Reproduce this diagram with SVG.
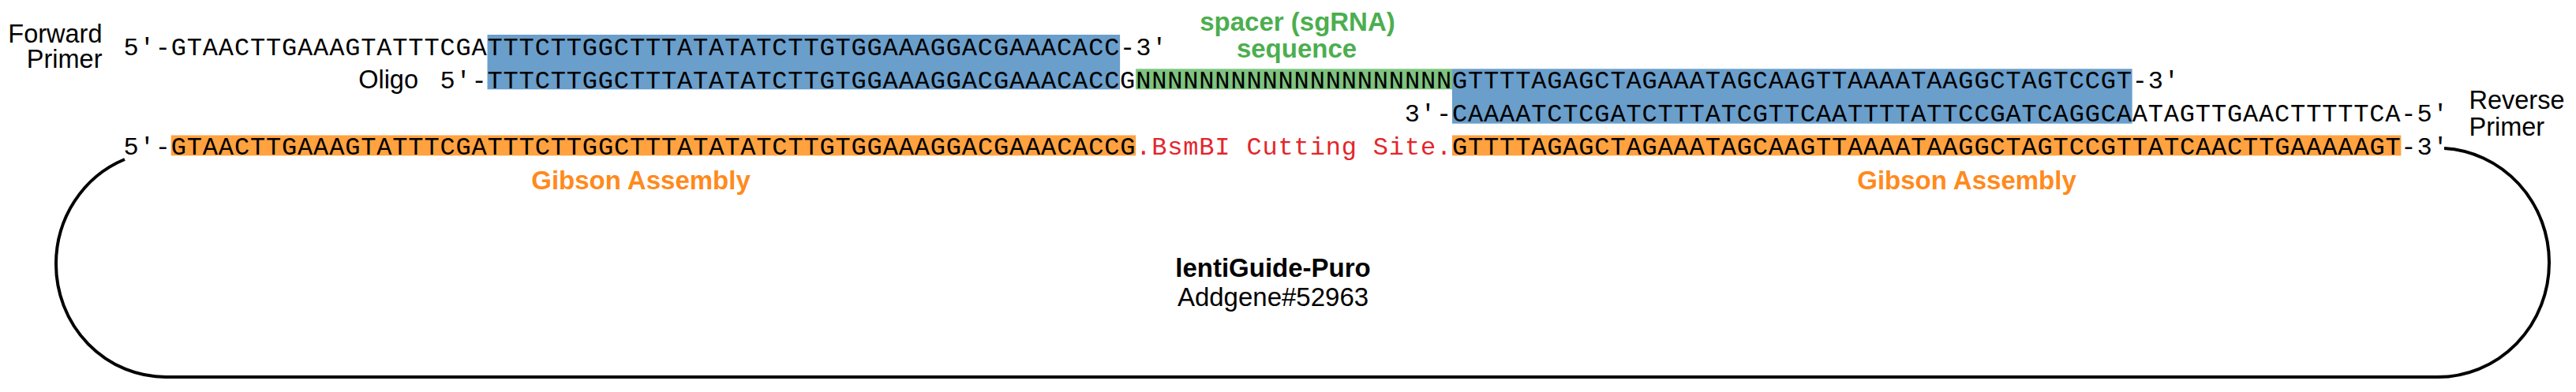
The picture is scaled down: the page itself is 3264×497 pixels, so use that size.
<svg xmlns="http://www.w3.org/2000/svg" width="3264" height="497" viewBox="0 0 3264 497">
<style>
.seq{font-family:"Liberation Mono","Courier New",monospace;font-size:32px;letter-spacing:0.84px;fill:#000}
.red{fill:#e3262b}
.lab{font-family:"Liberation Sans",Arial,sans-serif;font-size:32.5px;fill:#000}
.bold{font-family:"Liberation Sans",Arial,sans-serif;font-size:33px;font-weight:bold}
.green{fill:#4cae4f}
.orange{fill:#ff8a1c}
.blue{fill:#6a9ecb}
.obox{fill:#ffa23f}
.gbox{fill:#7ec37e}
.loop{fill:none;stroke:#000;stroke-width:4}
</style>
<rect width="3264" height="497" fill="#fff"/>
<g id="highlights">
<rect class="blue" x="617.52" y="44" width="801.6" height="69.3"/>
<rect class="gbox" x="1439.16" y="87.3" width="400.8" height="26"/>
<rect class="blue" x="1839.96" y="87.3" width="861.72" height="69.4"/>
<rect class="obox" x="216.72" y="171.5" width="1222.44" height="25.8"/>
<rect class="obox" x="1839.96" y="171.5" width="1202.4" height="25.8"/>
</g>
<g id="forward-primer">
<text class="lab" x="129.5" y="53.5" text-anchor="end">Forward</text>
<text class="lab" x="129.5" y="85.5" text-anchor="end">Primer</text>
<text class="seq" x="156.6" y="70">5′-</text>
<text class="seq" x="216.72" y="70">GTAACTTGAAAGTATTTCGA</text>
<text class="seq" x="617.52" y="70">TTTCTTGGCTTTATATATCTTGTGGAAAGGACGAAACACC</text>
<text class="seq" x="1419.12" y="70">-3′</text>
</g>
<g id="spacer-label">
<text class="bold green" x="1644" y="39" text-anchor="middle">spacer (sgRNA)</text>
<text class="bold green" x="1643" y="73" text-anchor="middle">sequence</text>
</g>
<g id="oligo">
<text class="lab" x="530" y="111.5" text-anchor="end">Oligo</text>
<text class="seq" x="557.4" y="111.5">5′-</text>
<text class="seq" x="617.52" y="111.5">TTTCTTGGCTTTATATATCTTGTGGAAAGGACGAAACACC</text>
<text class="seq" x="1419.12" y="111.5">G</text>
<text class="seq" x="1439.16" y="111.5">NNNNNNNNNNNNNNNNNNNN</text>
<text class="seq" x="1839.96" y="111.5">GTTTTAGAGCTAGAAATAGCAAGTTAAAATAAGGCTAGTCCGT</text>
<text class="seq" x="2701.68" y="111.5">-3′</text>
</g>
<g id="reverse-primer">
<text class="seq" x="1779.84" y="154">3′-</text>
<text class="seq" x="1839.96" y="154">CAAAATCTCGATCTTTATCGTTCAATTTTATTCCGATCAGGCA</text>
<text class="seq" x="2701.68" y="154">ATAGTTGAACTTTTTCA</text>
<text class="seq" x="3042.36" y="154">-5′</text>
<text class="lab" x="3128.5" y="138.3">Reverse</text>
<text class="lab" x="3128.5" y="171.7">Primer</text>
</g>
<g id="vector">
<text class="seq" x="156.6" y="195.5">5′-</text>
<text class="seq" x="216.72" y="195.5">GTAACTTGAAAGTATTTCGATTTCTTGGCTTTATATATCTTGTGGAAAGGACGAAACACCG</text>
<text class="seq red" x="1439.16" y="195.5">.BsmBI Cutting Site.</text>
<text class="seq" x="1839.96" y="195.5">GTTTTAGAGCTAGAAATAGCAAGTTAAAATAAGGCTAGTCCGTTATCAACTTGAAAAAGT</text>
<text class="seq" x="3042.36" y="195.5">-3′</text>
<text class="bold orange" x="812" y="240" text-anchor="middle">Gibson Assembly</text>
<text class="bold orange" x="2492" y="240" text-anchor="middle">Gibson Assembly</text>
</g>
<g id="plasmid-label">
<text class="bold" x="1613" y="351" text-anchor="middle" fill="#000">lentiGuide-Puro</text>
<text class="lab" x="1613" y="387.5" text-anchor="middle" style="font-size:33px">Addgene#52963</text>
</g>
<g id="connectors">
<path class="loop" d="M 158 202 A 139 143 0 0 0 71 335 A 139 143 0 0 0 210 478 L 3089 478 A 141 145 0 0 0 3230 333 A 141 145 0 0 0 3097 188"/>
</g>
</svg>
